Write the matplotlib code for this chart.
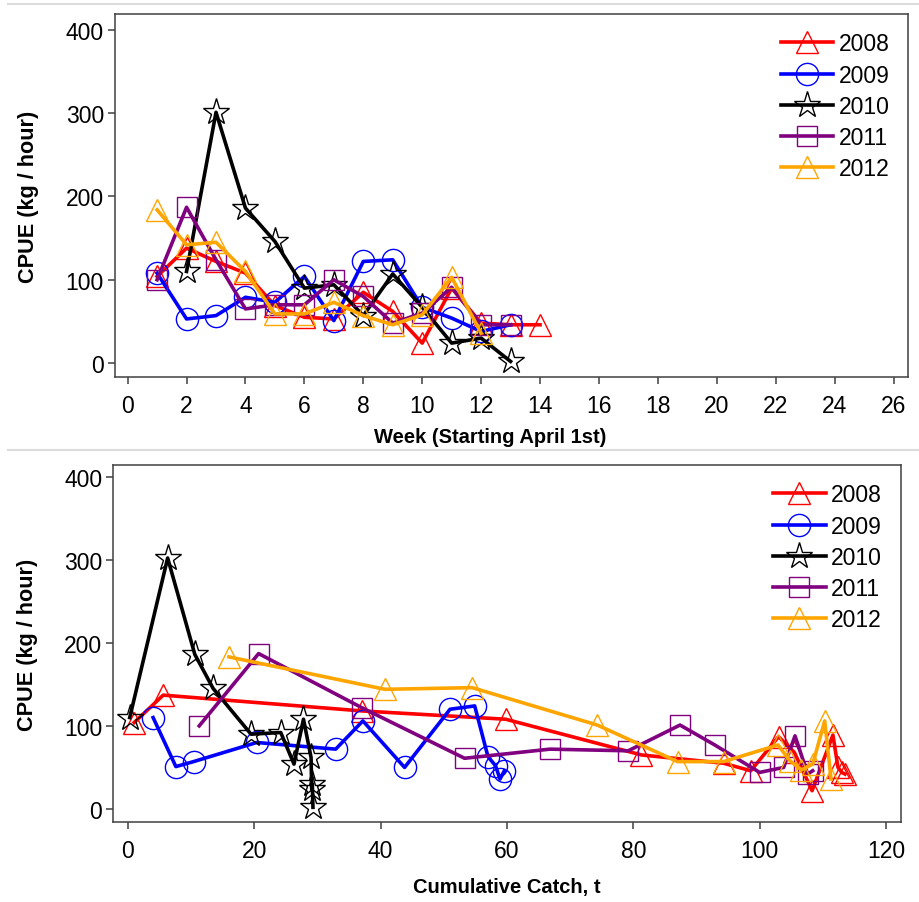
import numpy as np
import matplotlib
matplotlib.use("Agg")
import matplotlib.pyplot as plt
from matplotlib.lines import Line2D

plt.rcParams['font.family'] = ['Liberation Sans', 'DejaVu Sans']

years = ['2008', '2009', '2010', '2011', '2012']
colors = ['#ff0000', '#0000ff', '#000000', '#800080', '#ffa500']
markers = ['^', 'o', '*', 's', '^']
msizes = [16, 16, 20, 15, 16]

# CPUE by week (top panel)
wk08 = [1, 2, 3, 4, 5, 6, 7, 8, 9, 10, 11, 12, 13, 14]
cpue08 = [104, 138, 122, 108, 69, 55, 53, 85, 62, 24, 90, 48, 46, 46]
wk09 = [1, 2, 3, 4, 5, 6, 7, 8, 9, 10, 11, 12, 13]
cpue09 = [108, 53, 57, 79, 73, 104, 51, 122, 124, 67, 54, 38, 46]
wk10 = [2, 3, 4, 5, 6, 7, 8, 9, 10, 11, 12, 13]
cpue10 = [110, 301, 186, 146, 90, 94, 57, 107, 67, 24, 30, 2]
wk11 = [1, 2, 3, 4, 5, 6, 7, 8, 9, 10, 11, 12, 13]
cpue11 = [100, 187, 124, 65, 70, 70, 100, 80, 48, 60, 91, 46, 46]
wk12 = [1, 2, 3, 4, 5, 6, 7, 8, 9, 10, 11, 12]
cpue12 = [184, 142, 145, 110, 59, 59, 73, 57, 46, 58, 103, 36]

# CPUE by cumulative catch (bottom panel)
cum08 = [1.0, 5.6, 37.0, 59.8, 81.3, 94.3, 98.6, 103.0, 105.5, 108.3, 111.6, 112.4, 113.0, 113.5]
cpc08 = [104, 137, 118, 108, 65, 55, 46, 87, 68, 22, 89, 50, 44, 42]
cum09 = [4.0, 7.6, 10.4, 20.4, 32.9, 37.2, 43.8, 51.0, 54.9, 57.0, 58.2, 58.9, 59.6]
cpc09 = [110, 51, 57, 80, 72, 106, 50, 120, 124, 63, 52, 36, 46]
cum10 = [0.3, 6.3, 10.6, 13.5, 19.5, 24.2, 26.3, 27.8, 29.0, 29.1, 29.2, 29.3]
cpc10 = [110, 302, 186, 145, 90, 92, 54, 108, 62, 24, 30, 2]
cum11 = [11.3, 20.7, 37.0, 53.3, 66.8, 79.2, 87.4, 92.9, 100.0, 103.8, 105.6, 107.6, 108.4]
cpc11 = [100, 187, 122, 61, 72, 70, 101, 77, 44, 50, 88, 42, 46]
cum12 = [16.0, 40.7, 54.5, 74.3, 87.0, 94.3, 102.9, 104.8, 106.6, 108.4, 110.3, 111.3]
cpc12 = [183, 144, 146, 101, 57, 57, 77, 58, 47, 54, 106, 36]

top_x = [wk08, wk09, wk10, wk11, wk12]
top_y = [cpue08, cpue09, cpue10, cpue11, cpue12]
bot_x = [cum08, cum09, cum10, cum11, cum12]
bot_y = [cpc08, cpc09, cpc10, cpc11, cpc12]

fig = plt.figure(figsize=(9.19, 9.03), dpi=100)
ax1 = fig.add_axes([0.1251, 0.5811, 0.8632, 0.4023])
ax2 = fig.add_axes([0.1233, 0.0883, 0.8566, 0.3957])


def draw(ax, xs, ys):
    for x, y, yr, c, m, s in zip(xs, ys, years, colors, markers, msizes):
        ax.plot(x, y, '-', color=c, lw=2.6, marker=m, ms=s,
                mfc='none', mec=c, mew=1.0, label=yr)
    for sp in ax.spines.values():
        sp.set_color('#404040')
        sp.set_linewidth(1.1)
    ax.tick_params(axis='both', direction='out', length=5, width=1.1,
                   color='#404040', labelsize=16.5)
    ax.tick_params(axis='x', pad=7)
    ax.tick_params(axis='y', pad=3)
    ax.set_yticks([0, 100, 200, 300, 400])
    ax.set_ylabel('CPUE (kg / hour)', fontsize=15.6, fontweight='bold')
    ax.yaxis.set_label_coords(-0.096, 0.5)
    ax.legend(loc='upper right', frameon=False, fontsize=16.5, numpoints=1,
              handlelength=2.3, handletextpad=0.25, labelspacing=0.36,
              borderaxespad=0.4)


draw(ax1, top_x, top_y)
ax1.set_xlim(-0.43, 26.5)
ax1.set_ylim(-17, 419)
ax1.set_xticks(np.arange(0, 27, 2))
ax1.set_xlabel('Week (Starting April 1st)', fontsize=14.5, fontweight='bold')
ax1.xaxis.set_label_coords(0.473, -0.138)

draw(ax2, bot_x, bot_y)
ax2.set_xlim(-2.3, 122.3)
ax2.set_ylim(-16, 414)
ax2.set_xticks(np.arange(0, 121, 20))
ax2.set_xlabel('Cumulative Catch, t', fontsize=14.5, fontweight='bold', labelpad=10.5)

# light separator lines of the screenshot
for yy in [1 - 4.5 / 903, 1 - 450.7 / 903]:
    fig.add_artist(Line2D([0.009, 1.0], [yy, yy], color='#dcdcdc', lw=1.5,
                          transform=fig.transFigure))

fig.savefig('out.png', dpi=100)
